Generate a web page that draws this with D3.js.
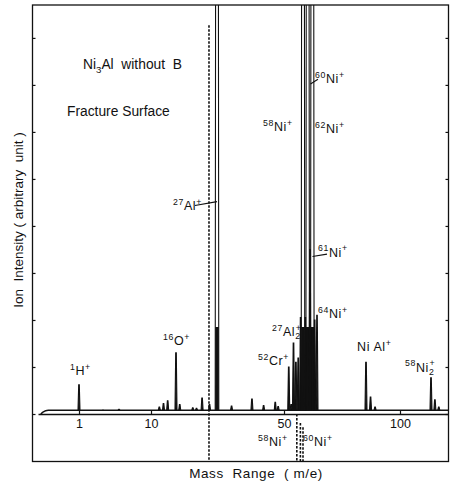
<!DOCTYPE html>
<html><head><meta charset="utf-8">
<script src="https://cdn.jsdelivr.net/npm/d3@7"></script>
<style>
html,body{margin:0;padding:0;background:#fff;}
svg{display:block;font-family:"Liberation Sans",Arial,sans-serif;}
</style></head><body>
<svg id="chart" width="453" height="485"></svg>
<script>
// ---------------- data ----------------
const peakMass      = [1, 4, 6, 12, 13, 14, 16, 17, 20.5, 21.5, 23, 25, 27, 32, 39, 43, 47, 48,
                       52, 53, 54, 55, 56, 57, 58, 59, 60, 61, 62, 63, 64, 85, 87, 89, 116, 118, 120];
const peakIntensity = [0.62, 0.08, 0.10, 0.15, 0.22, 0.28, 1.30, 0.20, 0.13, 0.12, 0.34, 0.20, 9.5, 0.17, 0.32, 0.18, 0.25, 0.16,
                       1.00, 0.20, 1.51, 1.10, 1.19, 2.05, 9.5, 2.05, 9.5, 3.50, 9.5, 2.0, 2.10, 1.10, 0.36, 0.15, 0.77, 0.30, 0.15];
const baselineMass  = [0, 0.05, 0.12, 0.25, 125];
const baselineLevel = [-0.13, -0.03, 0.04, 0.08, 0.08];
const xTickValues   = [1, 10, 50, 100];
const xTickLabels   = ["1", "10", "50", "100"];
const yTickValues   = [0, 1, 2, 3, 4, 5, 6, 7, 8];
const dashMass      = [24.85, 55.4, 56.9, 58.0];
const dashFrom      = [8.27, 0.0, -0.19, -0.28];
const dashTo        = [-1.02, -1.02, -1.02, -1.02];

// ---------------- layout ----------------
const svg = d3.select("#chart");
const frame = {left: 32.5, right: 448.5, top: 5, bottom: 461.5};
const x = d3.scaleLinear()
  .domain([0, 1, 10, 16, 27, 50, 58, 64, 85, 100, 116, 125])
  .range([38, 79, 151, 176, 217, 284, 303, 317, 366, 400, 431, frame.right]);
const y = d3.scaleLinear().domain([0, 8.7]).range([414, frame.top]);
const offScale = 8.7;
const base = 0.08;

const defs = svg.append("defs");
defs.append("clipPath").attr("id", "plotClip").append("rect")
  .attr("x", frame.left).attr("y", frame.top)
  .attr("width", frame.right - frame.left).attr("height", y(0) - frame.top);
defs.append("clipPath").attr("id", "fillClip").append("rect")
  .attr("x", frame.left).attr("y", y(1.85))
  .attr("width", frame.right - frame.left).attr("height", y(0) - y(1.85));

// frame
svg.append("rect").attr("x", frame.left).attr("y", frame.top)
  .attr("width", frame.right - frame.left).attr("height", frame.bottom - frame.top)
  .attr("fill", "none").attr("stroke", "#111").attr("stroke-width", 1.3);

// y ticks (inside, both sides)
const yl = svg.append("g").attr("transform", `translate(${frame.left},0)`)
  .call(d3.axisLeft(y).tickValues(yTickValues).tickSize(-3).tickFormat(""));
const yr = svg.append("g").attr("transform", `translate(${frame.right},0)`)
  .call(d3.axisRight(y).tickValues(yTickValues).tickSize(-3).tickFormat(""));
[yl, yr].forEach(g => { g.select(".domain").remove(); g.selectAll("line").attr("stroke", "#111").attr("stroke-width", 1.2); });

// x axis
const xa = svg.append("g").attr("transform", `translate(0,${y(0)})`)
  .call(d3.axisBottom(x).tickValues(xTickValues).tickFormat((d, i) => xTickLabels[i])
    .tickSizeInner(-3).tickSizeOuter(0).tickPadding(5));
xa.select(".domain").attr("stroke", "#111").attr("stroke-width", 1.3);
xa.selectAll("line").attr("stroke", "#111").attr("stroke-width", 1.2);
xa.selectAll("text").attr("font-size", 12.5).attr("font-family", "Liberation Sans, Arial, sans-serif").attr("fill", "#111");

// spectrum
const peaks = peakMass.map((m, i) => ({m, v: peakIntensity[i]}));
function peakPts(p) {
  const xc = x(p.m);
  const big = p.v > offScale;
  const wb = big ? 1.8 : 1.0, wt = big ? 1.4 : 0.3;
  return [[xc - wb, y(base)], [xc - wt, y(p.v)], [xc + wt, y(p.v)], [xc + wb, y(base)]];
}
const line = d3.line();
const spec = svg.append("g").attr("clip-path", "url(#plotClip)");
spec.append("path")
  .attr("d", d3.line().x((d, i) => x(baselineMass[i])).y((d, i) => y(baselineLevel[i])).curve(d3.curveMonotoneX)(baselineMass))
  .attr("fill", "none").attr("stroke", "#111").attr("stroke-width", 1.3);
spec.append("g").attr("clip-path", "url(#fillClip)").selectAll("path").data(peaks).join("path")
  .attr("d", d => line(peakPts(d)) + "Z").attr("fill", "#111").attr("stroke", "none");
spec.append("g").selectAll("path").data(peaks).join("path")
  .attr("d", d => line(peakPts(d))).attr("fill", "none").attr("stroke", "#111").attr("stroke-width", 1.1);

// dashed guide lines
svg.append("g").selectAll("line").data(dashMass).join("line")
  .attr("x1", d => x(d)).attr("x2", d => x(d))
  .attr("y1", (d, i) => y(dashFrom[i])).attr("y2", (d, i) => y(dashTo[i]))
  .attr("stroke", "#111").attr("stroke-width", 1.6).attr("stroke-dasharray", "2.5,1.5");

// rich labels
function rich(parent, x0, y0, parts, size, extra) {
  const t = parent.append("text").attr("x", x0).attr("y", y0).attr("font-size", size).attr("fill", "#111");
  if (extra) extra(t);
  let shift = 0;
  parts.forEach(p => {
    const target = p.s === "sup" ? -0.42 * size : p.s === "sub" ? 0.28 * size : 0;
    const fs = p.s ? size * 0.7 : size;
    t.append("tspan").attr("dy", target - shift).attr("dx", p.dx || 0).attr("font-size", fs).text(p.t);
    shift = target;
  });
  return t;
}
const S = (t) => ({t, s: "sup"}), B = (t) => ({t, s: "sub"}), N = (t) => ({t});
const labels = [
  {parts: [S("1"), N("H"), S("+")], m: 1, dx: -9, v: 0.83},
  {parts: [S("16"), N("O"), S("+")], m: 16, dx: -13, v: 1.47},
  {parts: [S("27"), N("Al"), S("+")], m: 27, dx: -44, v: 4.34},
  {parts: [S("58"), N("Ni"), S("+")], m: 58, dx: -40, v: 6.01},
  {parts: [S("60"), N("Ni"), S("+")], m: 60, dx: 7.3, v: 7.04},
  {parts: [S("62"), N("Ni"), S("+")], m: 62, dx: 2.7, v: 5.98},
  {parts: [S("61"), N("Ni"), S("+")], m: 61, dx: 8, v: 3.35},
  {parts: [S("64"), N("Ni"), S("+")], m: 64, dx: 1, v: 2.04},
  {parts: [S("27"), N("Al"), B("2"), {t: "+", s: "sup", dx: -5}], m: 54, dx: -21.5, v: 1.66},
  {parts: [S("52"), N("Cr"), S("+")], m: 52, dx: -30.75, v: 1.04},
  {parts: [N("Ni Al"), S("+")], m: 85, dx: -9, v: 1.33},
  {parts: [S("58"), N("Ni"), B("2"), {t: "+", s: "sup", dx: -5}], m: 116, dx: -26, v: 0.9},
  {parts: [S("58"), N("Ni"), S("+")], m: 58, dx: -45, v: -0.68},
  {parts: [S("60"), N("Ni"), S("+")], m: 60, dx: -4.7, v: -0.68}
];
const lg = svg.append("g");
labels.forEach(l => rich(lg, x(l.m) + l.dx, y(l.v), l.parts, 12.5, t => t.attr("letter-spacing", 0.6)));

// leader lines
const leaders = [
  {m: 27, dx1: 0, v1: 4.517, dx2: -22, v2: 4.436},
  {m: 60, dx1: 2.8, v1: 7.02, dx2: 10.3, v2: 7.12},
  {m: 61, dx1: 2.5, v1: 3.35, dx2: 17, v2: 3.40}
];
svg.append("g").selectAll("line").data(leaders).join("line")
  .attr("x1", d => x(d.m) + d.dx1).attr("y1", d => y(d.v1))
  .attr("x2", d => x(d.m) + d.dx2).attr("y2", d => y(d.v2))
  .attr("stroke", "#111").attr("stroke-width", 1.1);

// titles
rich(svg, 83, 69, [N("Ni"), B("3"), N("Al  without  B")], 13.8, t => t.attr("style", "white-space:pre"));
svg.append("text").attr("x", 67).attr("y", 116).attr("font-size", 13.8).attr("fill", "#111").text("Fracture Surface");

// axis titles
svg.append("text").attr("x", 256).attr("y", 478).attr("text-anchor", "middle")
  .attr("font-size", 13.5).attr("fill", "#111").attr("letter-spacing", 0.6).attr("style", "white-space:pre")
  .text("Mass  Range  ( m/e)");
svg.append("text").attr("transform", "translate(23,220) rotate(-90)").attr("text-anchor", "middle")
  .attr("font-size", 13.5).attr("fill", "#111").attr("style", "white-space:pre")
  .text("Ion  Intensity ( arbitrary  unit )");
</script>
</body></html>
